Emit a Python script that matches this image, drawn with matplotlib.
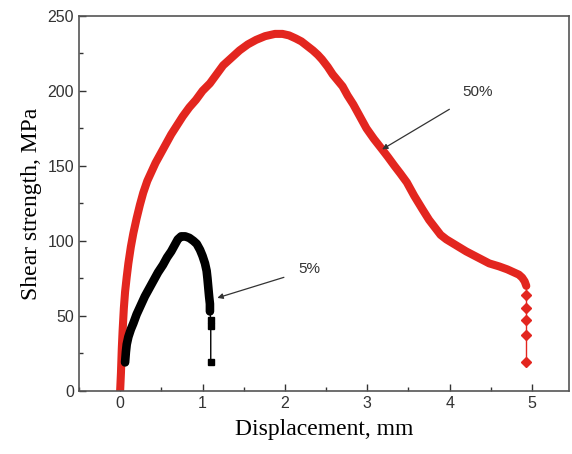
"""Shear strength vs displacement for 5% and 50% samples."""

import matplotlib

matplotlib.use("Agg")
from matplotlib import pyplot as plt
from matplotlib.ticker import MultipleLocator

# 50% curve (red)
red_x = [0.00, 0.01, 0.02, 0.03, 0.045, 0.06, 0.08, 0.10, 0.13, 0.16, 0.20,
         0.24, 0.28, 0.33, 0.38, 0.43, 0.48, 0.55, 0.62, 0.69, 0.76, 0.84,
         0.92, 1.00, 1.09, 1.17, 1.25, 1.35, 1.45, 1.55, 1.65, 1.76, 1.88,
         1.97, 2.05, 2.13, 2.20, 2.27, 2.34, 2.40, 2.45, 2.52, 2.58, 2.64,
         2.70, 2.76, 2.83, 2.91, 2.99, 3.08, 3.18, 3.25, 3.33, 3.40, 3.48,
         3.57, 3.67, 3.75, 3.82, 3.89, 3.96, 4.08, 4.20, 4.34, 4.48, 4.60,
         4.70, 4.78, 4.84, 4.88, 4.91, 4.93]
red_y = [0, 12, 28, 40, 55, 66, 76, 85, 96, 105, 115,
         124, 132, 140, 146, 152, 157, 164, 171, 177, 183, 189,
         194, 200, 205, 211, 217, 222, 227, 231, 234, 236.5, 238,
         238, 237, 235, 233, 230, 227, 224, 221, 216, 211, 207,
         203, 197, 191, 183, 175, 168, 161, 156, 150, 145, 139,
         130, 121, 114, 109, 104, 101, 97, 93, 89, 85, 83,
         81, 79, 77.5, 75.5, 73, 70]
red_drop_x = [4.93, 4.93, 4.93, 4.93, 4.93]
red_drop_y = [64, 55, 47, 37, 19]

# 5% curve (black)
blk_x = [0.06, 0.07, 0.08, 0.10, 0.13, 0.16, 0.20, 0.25, 0.30, 0.36, 0.41,
         0.46, 0.52, 0.57, 0.62, 0.66, 0.70, 0.74, 0.79, 0.84, 0.89, 0.93,
         0.97, 1.00, 1.03, 1.05, 1.06, 1.07, 1.08, 1.09, 1.09]
blk_y = [19, 26, 31, 36, 41, 45, 51, 57, 63, 69, 74,
         79, 84, 89, 93, 97, 101, 103, 103, 102, 100, 98,
         94, 90, 85, 80, 75, 69, 63, 58, 53]
blk_drop_x = [1.10, 1.10, 1.10]
blk_drop_y = [47, 43, 19]

RED = "#e3261f"
GRAY = "#333333"

fig = plt.figure(figsize=(5.72, 4.54), dpi=100)
ax = fig.add_axes((0.138, 0.139, 0.857, 0.826))

ax.plot(red_x, red_y, color=RED, lw=5.8, solid_capstyle="round", solid_joinstyle="round")
ax.plot([red_x[-1]] + red_drop_x, [red_y[-1]] + red_drop_y, color=RED, lw=1.0)
ax.plot(red_drop_x, red_drop_y, ls="none", marker="D", ms=5.5, color=RED)

ax.plot(blk_x, blk_y, color="black", lw=6.2, solid_capstyle="round", solid_joinstyle="round")
ax.plot([blk_x[-1]] + blk_drop_x, [blk_y[-1]] + blk_drop_y, color="black", lw=1.0)
ax.plot(blk_drop_x, blk_drop_y, ls="none", marker="s", ms=5, color="black")

ax.annotate("5%", xy=(1.18, 62), xytext=(2.30, 81), fontsize=11, color=GRAY,
            family="Liberation Sans", ha="center", va="center",
            arrowprops=dict(arrowstyle="-|>", color=GRAY, lw=0.9,
                            shrinkA=9, shrinkB=0, mutation_scale=8))
ax.annotate("50%", xy=(3.18, 161), xytext=(4.34, 199), fontsize=11, color=GRAY,
            family="Liberation Sans", ha="center", va="center",
            arrowprops=dict(arrowstyle="-|>", color=GRAY, lw=0.9,
                            shrinkA=10, shrinkB=0, mutation_scale=8))

ax.set_xlim(-0.5, 5.45)
ax.set_ylim(0, 250)
ax.xaxis.set_major_locator(MultipleLocator(1))
ax.xaxis.set_minor_locator(MultipleLocator(0.5))
ax.yaxis.set_major_locator(MultipleLocator(50))
ax.yaxis.set_minor_locator(MultipleLocator(25))
ax.tick_params(which="both", direction="in", colors=GRAY, labelsize=11.5)
ax.tick_params(which="major", length=5, width=1)
ax.tick_params(which="minor", length=3, width=1)
for label in ax.get_xticklabels() + ax.get_yticklabels():
    label.set_family("Liberation Sans")
for spine in ax.spines.values():
    spine.set_color("#555555")
    spine.set_linewidth(1.2)

ax.set_xlabel("Displacement, mm", family="Liberation Serif", fontsize=17, labelpad=6)
ax.set_ylabel("Shear strength, MPa", family="Liberation Serif", fontsize=17, labelpad=4)

fig.savefig("out.png", dpi=100)
